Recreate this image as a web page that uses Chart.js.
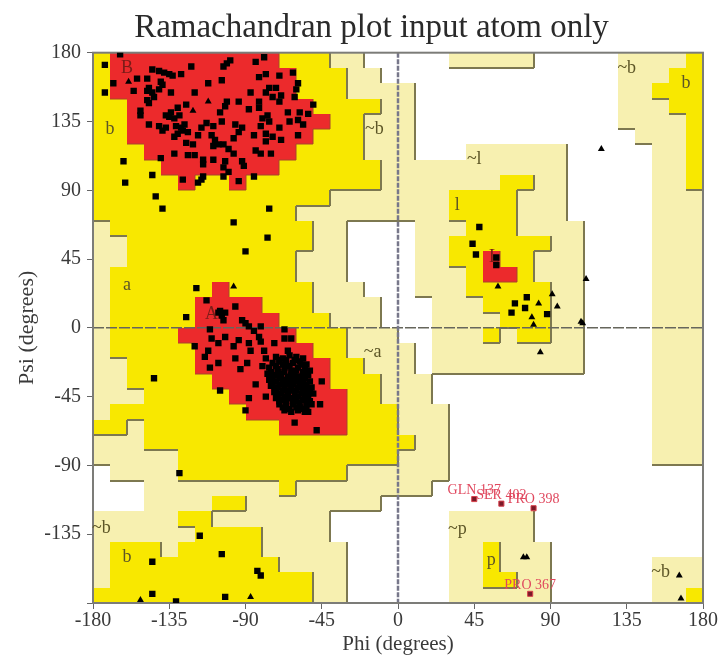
<!DOCTYPE html>
<html>
<head>
<meta charset="utf-8">
<title>Ramachandran plot</title>
<script src="https://cdn.jsdelivr.net/npm/chart.js@4/dist/chart.umd.min.js"></script>
<style>
  body { margin: 0; background: #fff; }
  canvas { display: block; }
</style>
</head>
<body>
<canvas id="rama" width="722" height="655"></canvas>
<script>
var tickValues = [-180, -135, -90, -45, 0, 45, 90, 135, 180];

// 10 degree cells, top row is psi 170..180, left column is phi -180..-170
// r core, y allowed, l generous, . disallowed
var regionRows = [
  "yrrrrrrrrrryyyll.. ...lllll.....lllly",
  "yrrrrrrrrrrryyyll. .............lllyy",
  "yrrrrrrrrrrryyylll l............llyyy",
  "yyrrrrrrrrrrryyyyl l............lllyy",
  "yyrrrrrrrrrrrryyll l............lllly",
  "yyrrrrrrrrrrryyyll l.............llly",
  "yyyrrrrrrrrryyyyll l...llllll.....lly",
  "yyyyrrrrrrryyyyyyl llllllllll.....lly",
  "yyyyyryyryyyyyyyyl llllllyyll.....lly",
  "yyyyyyyyyyyyyyllll lllyyyylll.....lll",
  "yyyyyyyyyyyyllllll lllyyyylll.....lll",
  "lyyyyyyyyyyyyll... .lllyyyllll....lll",
  "llyyyyyyyyyyyll... .llyyyyyyll....lll",
  "llyyyyyyyyyylll... .llyyryylll....lll",
  "lyyyyyyyyyyylll... .lllyrrylll....lll",
  "lyyyyyyryyyyylll.. .lllyyyyyll....lll",
  "lyyyyyrrrryyyllll. ..lllyyyyll....lll",
  "lyyyyyrrrrryyylll. ..llllyyyll....lll",
  "lyyyyrrrrrrryyylll ..lllylyyll....lll",
  "lyyyyyrrrrrrryylll l.lllllllll....lll",
  "llyyyyrrrrrrrryyll l.lllllllll....lll",
  "llyyyyyrrrrrrryyyl ll.............lll",
  "lllyyyyyrrrrrrryyl ll.............lll",
  "lyyyyyyyyrrrrrryyy lll............lll",
  "yylyyyyyyyyrrrryyy lll............lll",
  "lllyyyyyyyyyyyyyyy yll............lll",
  "lllllyyyyyyyyyyyyy lll............lll",
  ".llllyyyyyyyyyylll lll...............",
  "...llllllllyllllll ll................",
  "...llllyyllllllll. ..................",
  "lllllyylllllll.... ...lllll..........",
  "llllllyyyyllll.... ...lllll..........",
  "lyyylyyyyylllll... ...llylll.........",
  "lyyyyyyyyyyllll... ...llylll......lll",
  "lyyyyyyyyyyyyll... ...llyyll......lll",
  "yyyyyyyyyyyyyll... ...llllll......lly"
];

var betaSquares = [
  [-173,172],[-164,179],[-173,154],[-168,160],[-154,163],[-156,155],[-148,163],[-145,169],[-141,168],[-138,167],
  [-135,166],[-133,165],[-128,166],[-122,171],[-140,161],[-139,159],[-141,156],[-147,157],[-148,155],[-145,154],
  [-144,151],[-148,149],[-147,147],[-134,154],[-120,154],[-112,160],[-104,162],[-103,171],[-101,173],[-99,175],
  [-84,174],[-79,177],[-78,166],[-82,164],[-70,165],[-62,167],[-59,160],[-60,156],[-61,151],[-76,157],
  [-72,157],[-69,152],[-70,148],[-74,151],[-78,154],[-87,154],[-82,148],[-82,144],[-94,148],[-101,148],
  [-102,145],[-88,143],[-105,141],[-104,135],[-50,146],[-53,140],[-58,141],[-65,141],[-64,135],[-59,136],
  [-56,133],[-77,139],[-76,135],[-80,137],[-81,132],[-78,127],[-74,125],[-69,123],[-70,131],[-59,126],
  [-85,126],[-92,131],[-96,133],[-94,128],[-97,124],[-113,134],[-116,131],[-109,132],[-110,126],[-108,123],
  [-109,119],[-103,120],[-100,117],[-106,120],[-118,126],[-124,128],[-127,129],[-130,127],[-132,125],[-126,133],
  [-131,132],[-128,131],[-137,131],[-139,129],[-147,133],[-141,132],[-134,141],[-137,139],[-132,137],[-129,139],
  [-135,138],[-130,144],[-125,146],[-152,142],[-152,139],[-125,121],[-121,120],[-132,114],[-124,113],[-120,113],
  [-140,111],[-115,110],[-115,107],[-109,110],[-102,109],[-103,105],[-92,109],[-91,106],[-97,114],[-84,116],
  [-81,114],[-75,114],[-78,122],[-103,99],[-100,102],[-115,99],[-118,95],[-116,97],[-127,97],[-94,96],[-85,99]
];

var helixSquares = [
  [-113,18],[-96,14],[-125,7],[-105,11],[-104,8],[-103,5],[-106,10],[-102,10],[-92,5],[-90,3],
  [-88,1],[-81,1],[-67,-1],[-111,-1],[-110,-7],[-106,-10],[-102,-6],[-120,-12],[-112,-15],[-114,-19],
  [-111,-26],[-106,-23],[-96,-20],[-89,-23],[-93,-27],[-97,-12],[-94,-8],[-88,-10],[-87,-15],[-85,-2],
  [-82,-6],[-81,-9],[-67,-7],[-63,-7],[-73,-10],[-65,-15],[-79,-15],[-78,-20],[-80,-25],[-84,-37],
  [-78,-45],[-105,-41],[-88,-46],[-90,-54],[-61,-62],[-48,-67],[-45,-35],[-46,-50],[-53,-55],[-144,-33],
  [-72,-19],[-68,-20],[-64,-18],[-60,-19],[-56,-20],[-74,-23],[-70,-22],[-66,-24],[-62,-23],[-58,-22],[-54,-24],
  [-76,-26],[-71,-27],[-67,-26],[-63,-28],[-59,-26],[-55,-27],[-52,-28],[-77,-30],[-73,-31],[-69,-30],[-65,-32],
  [-61,-30],[-57,-32],[-53,-31],[-76,-34],[-72,-35],[-68,-34],[-64,-36],[-60,-35],[-56,-36],[-52,-35],[-75,-38],
  [-71,-39],[-67,-38],[-63,-40],[-59,-39],[-55,-40],[-51,-39],[-73,-42],[-69,-43],[-65,-42],[-61,-44],[-57,-43],
  [-53,-44],[-50,-43],[-72,-46],[-68,-47],[-64,-46],[-60,-48],[-56,-47],[-52,-48],[-70,-50],[-66,-51],[-62,-50],
  [-58,-52],[-54,-51],[-51,-50],[-67,-54],[-63,-55],[-59,-54],[-55,-55],
  [-70,-21],[-66,-21],[-61,-21],[-57,-24],[-72,-25],[-68,-24],[-64,-25],[-60,-28],[-56,-29],[-75,-29],[-71,-29],
  [-67,-29],[-63,-31],[-59,-32],[-55,-33],[-74,-32],[-70,-33],[-66,-34],[-62,-34],[-58,-35],[-54,-37],[-74,-36],
  [-70,-37],[-66,-37],[-62,-37],[-58,-38],[-53,-40],[-72,-40],[-68,-41],[-64,-41],[-60,-41],[-56,-42],[-52,-42],
  [-71,-44],[-67,-45],[-63,-46],[-59,-45],[-55,-46],[-70,-48],[-66,-48],[-62,-48],[-58,-49],[-54,-49],[-68,-52],
  [-64,-53],[-60,-52],[-56,-53]
];

var otherSquares = [
  [-162,109],[-161,95],[-145,100],[-143,86],[-139,78],[-76,78],[-97,69],[-77,59],[-90,50],[-119,26],
  [-129,-95],[-117,-136],[-104,-148],[-145,-153],[-83,-159],[-81,-162],[-145,-174],[-131,-179],[-102,-176],
  [48,66],[44,55],[46,48],[58,46],[58,41],[76,20],[69,16],[75,13],[67,10],[88,9]
];

var triangles = [
  [-159,161],[-112,148],[-121,142],[-97,27],[-152,-178],[-87,-176],[120,117],[111,32],[59,27],[91,22],
  [83,16],[94,14],[79,7],[80,2],[108,4],[109,3],[84,-16],[74,-150],[76,-150],[166,-162],[167,-177]
];

var flaggedPoints = [[45,-112],[61,-115],[80,-118],[78,-174]];
var flaggedNames = ["GLN 137", "SER 402", "PRO 398", "PRO 367"];

var regionLabels = [
  ["B",-160,170],["b",-170,130],["a",-160,28],["A",-110,9],["~b",-14,130],["~a",-15,-16],["~b",-175,-131],
  ["b",-160,-150],["~l",45,110],["l",35,80],["L",57,46],["~b",135,170],["b",170,160],["~p",35,-132],
  ["p",55,-152],["~b",155,-160]
];

var regionColors = { r: "#ec2a2c", y: "#f8e800", l: "#f7f0b0" };
var regionRank = { ".": 0, l: 1, y: 2, r: 3 };
var grid = regionRows.map(function (row) { return row.replace(" ", ""); });

function toXY(list) {
  return list.map(function (p) { return { x: p[0], y: p[1] }; });
}

var regionsPlugin = {
  id: "regions",
  beforeDatasetsDraw: function (chart) {
    var ctx = chart.ctx, xs = chart.scales.x, ys = chart.scales.y, a = chart.chartArea;
    ctx.save();
    grid.forEach(function (row, j) {
      for (var c = 0; c < 36; c++) {
        var k = row[c];
        if (k === ".") continue;
        var x0 = Math.round(xs.getPixelForValue(-180 + c * 10));
        var x1 = Math.round(xs.getPixelForValue(-170 + c * 10));
        var y0 = Math.round(ys.getPixelForValue(180 - j * 10));
        var y1 = Math.round(ys.getPixelForValue(170 - j * 10));
        ctx.fillStyle = regionColors[k];
        ctx.fillRect(x0, y0, x1 - x0, y1 - y0);
      }
    });
    // darker edge on the right and below wherever the next cell is a lower class
    grid.forEach(function (row, j) {
      for (var c = 0; c < 36; c++) {
        var k = row[c];
        var x1 = Math.round(xs.getPixelForValue(-170 + c * 10));
        var x0 = Math.round(xs.getPixelForValue(-180 + c * 10));
        var y0 = Math.round(ys.getPixelForValue(180 - j * 10));
        var y1 = Math.round(ys.getPixelForValue(170 - j * 10));
        ctx.strokeStyle = k === "r" ? "#a8452a" : "#7d7850";
        ctx.lineWidth = k === "r" ? 1 : 2;
        ctx.beginPath();
        if (c < 35 && regionRank[row[c + 1]] < regionRank[k]) {
          ctx.moveTo(x1, y0);
          ctx.lineTo(x1, y1);
        }
        if (j < 35 && regionRank[grid[j + 1][c]] < regionRank[k]) {
          ctx.moveTo(x0, y1);
          ctx.lineTo(x1, y1);
        }
        ctx.stroke();
      }
    });
    // zero lines
    ctx.strokeStyle = "#66665c";
    ctx.lineWidth = 1.5;
    ctx.setLineDash([11, 2]);
    ctx.beginPath();
    ctx.moveTo(a.left, ys.getPixelForValue(0));
    ctx.lineTo(a.right, ys.getPixelForValue(0));
    ctx.stroke();
    ctx.strokeStyle = "#77778a";
    ctx.lineWidth = 2.5;
    ctx.setLineDash([5, 1.5]);
    ctx.beginPath();
    ctx.moveTo(xs.getPixelForValue(0), a.top);
    ctx.lineTo(xs.getPixelForValue(0), a.bottom);
    ctx.stroke();
    ctx.setLineDash([]);
    ctx.strokeStyle = "#7c7c78";
    ctx.lineWidth = 2;
    ctx.strokeRect(a.left, a.top, a.right - a.left, a.bottom - a.top);
    // region letters
    ctx.font = "18px 'Liberation Serif'";
    ctx.textAlign = "center";
    ctx.textBaseline = "middle";
    regionLabels.forEach(function (t) {
      ctx.fillStyle = (t[0] === "A" || t[0] === "B" || t[0] === "L") ? "#7a1c18" : "#5c5526";
      ctx.fillText(t[0], xs.getPixelForValue(t[1]), ys.getPixelForValue(t[2]));
    });
    ctx.restore();
  },
  afterDatasetsDraw: function (chart) {
    var ctx = chart.ctx, pts = chart.getDatasetMeta(4).data;
    ctx.save();
    ctx.font = "14px 'Liberation Serif'";
    ctx.fillStyle = "#e0485e";
    ctx.textAlign = "center";
    ctx.textBaseline = "alphabetic";
    pts.forEach(function (p, i) {
      ctx.fillText(flaggedNames[i], p.x, p.y - 5);
    });
    ctx.restore();
  }
};

function axisTicks(skipBottom, pad) {
  return {
    color: "#3a3a3a",
    font: { family: "'Liberation Serif'", size: 20 },
    autoSkip: false,
    maxRotation: 0,
    minRotation: 0,
    padding: pad,
    callback: function (v) { return skipBottom && v === -180 ? "" : v; }
  };
}

var markDefaults = { showLine: false, borderWidth: 0, backgroundColor: "#000" };

new Chart(document.getElementById("rama"), {
  type: "scatter",
  data: {
    datasets: [
      Object.assign({ label: "beta", data: toXY(betaSquares), pointStyle: "rect", pointRadius: 4.5 }, markDefaults),
      Object.assign({ label: "helix", data: toXY(helixSquares), pointStyle: "rect", pointRadius: 4.5 }, markDefaults),
      Object.assign({ label: "other", data: toXY(otherSquares), pointStyle: "rect", pointRadius: 4.5 }, markDefaults),
      Object.assign({ label: "gly", data: toXY(triangles), pointStyle: "triangle", pointRadius: 4 }, markDefaults),
      { label: "flagged", data: toXY(flaggedPoints), showLine: false, pointStyle: "rect", pointRadius: 3.6,
        backgroundColor: "#7a1a28", borderColor: "#d8404c", borderWidth: 1 }
    ]
  },
  options: {
    responsive: false,
    animation: false,
    layout: { padding: { left: 40, right: 19, top: 0, bottom: 0 } },
    plugins: {
      legend: { display: false },
      tooltip: { enabled: false },
      title: {
        display: true,
        text: "Ramachandran plot input atom only",
        color: "#2a2a2a",
        font: { family: "'Liberation Serif'", size: 33, weight: "normal" },
        padding: { top: 9, bottom: 4.1 }
      }
    },
    scales: {
      x: {
        type: "linear",
        min: -180,
        max: 180,
        afterBuildTicks: function (s) { s.ticks = tickValues.map(function (v) { return { value: v }; }); },
        afterFit: function (s) { s.height = 52; },
        ticks: axisTicks(false, 0),
        grid: { drawOnChartArea: false, color: "#666", tickLength: 6 },
        border: { color: "#7c7c78", width: 2 },
        title: { display: true, text: "Phi (degrees)", color: "#3a3a3a", padding: { top: 0, bottom: -2 },
                 font: { family: "'Liberation Serif'", size: 21 } }
      },
      y: {
        type: "linear",
        min: -180,
        max: 180,
        afterBuildTicks: function (s) { s.ticks = tickValues.map(function (v) { return { value: v }; }); },
        afterFit: function (s) { s.width = 53; },
        ticks: axisTicks(true, 6),
        grid: { drawOnChartArea: false, color: "#666", tickLength: 6 },
        border: { color: "#7c7c78", width: 2 },
        title: { display: true, text: "Psi (degrees)", color: "#3a3a3a", padding: { top: -26, bottom: 0 },
                 font: { family: "'Liberation Serif'", size: 22 } }
      }
    }
  },
  plugins: [regionsPlugin]
});
</script>
</body>
</html>
